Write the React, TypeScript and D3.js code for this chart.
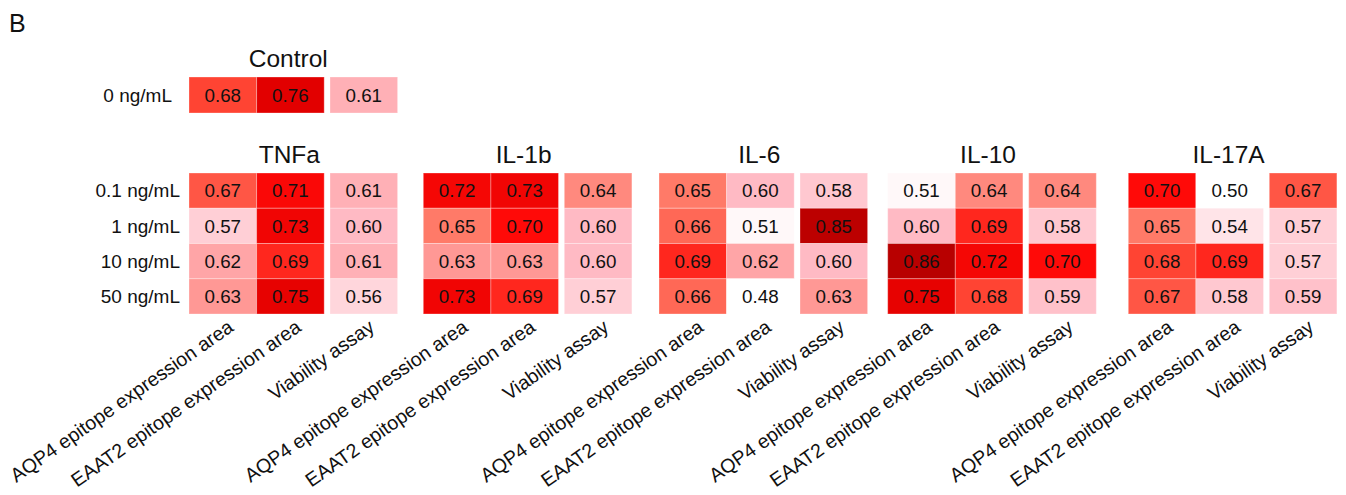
import React from "react";
import * as d3 from "d3";

const columns = ["AQP4 epitope expression area", "EAAT2 epitope expression area", "Viability assay"];
const concentrations = ["0.1 ng/mL", "1 ng/mL", "10 ng/mL", "50 ng/mL"];
const panels = ["TNFa", "IL-1b", "IL-6", "IL-10", "IL-17A"];

const controlLabel = "0 ng/mL";
const controlValues = [0.68, 0.76, 0.61];

const tnfa = [
  [0.67, 0.71, 0.61],
  [0.57, 0.73, 0.6],
  [0.62, 0.69, 0.61],
  [0.63, 0.75, 0.56],
];
const il1b = [
  [0.72, 0.73, 0.64],
  [0.65, 0.7, 0.6],
  [0.63, 0.63, 0.6],
  [0.73, 0.69, 0.57],
];
const il6 = [
  [0.65, 0.6, 0.58],
  [0.66, 0.51, 0.85],
  [0.69, 0.62, 0.6],
  [0.66, 0.48, 0.63],
];
const il10 = [
  [0.51, 0.64, 0.64],
  [0.6, 0.69, 0.58],
  [0.86, 0.72, 0.7],
  [0.75, 0.68, 0.59],
];
const il17a = [
  [0.7, 0.5, 0.67],
  [0.65, 0.54, 0.57],
  [0.68, 0.69, 0.57],
  [0.67, 0.58, 0.59],
];
const panelValues = [tnfa, il1b, il6, il10, il17a];

// layout
const W = 1346;
const H = 495;
const FONT = "'Liberation Sans', Arial, Helvetica, sans-serif";
const CELL_W = 67.6;
const GAP = 5.8;
const PANEL_W = 3 * CELL_W + GAP;
const panelLeft = [189, 423.3, 659, 887.7, 1128.3];
const CONTROL_LEFT = 189;

const color = d3
  .scaleLinear<string>()
  .domain([0.5, 0.55, 0.6, 0.625, 0.65, 0.68, 0.7, 0.76, 0.86])
  .range(["#ffffff", "#ffdde2", "#ffbac4", "#ffa0a0", "#ff7a68", "#ff4433", "#ff0a08", "#e20000", "#b80000"])
  .clamp(true);

const colX = d3.scaleOrdinal<string, number>().domain(columns).range([0, CELL_W, 2 * CELL_W + GAP]);
const panelX = d3.scaleOrdinal<string, number>().domain(panels).range(panelLeft);
const rowY = d3.scaleBand<string>().domain(concentrations).range([173, 314]);
const controlY = d3.scaleBand<string>().domain([controlLabel]).range([77, 113]);

function Cells({ x0, values, y, rows }: { x0: number; values: number[][]; y: d3.ScaleBand<string>; rows: string[] }) {
  return (
    <g>
      {rows.map((r, ri) =>
        columns.map((c, ci) => {
          const v = values[ri][ci];
          const x = x0 + colX(c);
          const yy = y(r) as number;
          return (
            <g key={r + c}>
              <rect
                x={x}
                y={yy}
                width={CELL_W}
                height={y.bandwidth()}
                fill={color(v)}
                stroke="#ffffff"
                strokeOpacity={0.3}
                strokeWidth={1}
              />
              <text
                x={x + CELL_W / 2}
                y={yy + y.bandwidth() / 2}
                dy="0.36em"
                textAnchor="middle"
                fontSize={18.8}
                fill="#111"
              >
                {v.toFixed(2)}
              </text>
            </g>
          );
        })
      )}
    </g>
  );
}

function XLabels({ x0, yBottom }: { x0: number; yBottom: number }) {
  return (
    <g>
      {columns.map((c) => {
        const cx = x0 + colX(c) + CELL_W / 2 + 12;
        const cy = yBottom + 16;
        return (
          <text
            key={c}
            transform={`translate(${cx},${cy}) rotate(-35)`}
            textAnchor="end"
            fontSize={19.6}
            fill="#111"
          >
            {c}
          </text>
        );
      })}
    </g>
  );
}

export default function App() {
  return (
    <svg
      width={W}
      height={H}
      style={{ position: "absolute", left: 0, top: 0, background: "#fff" }}
      fontFamily={FONT}
    >
      <text x={9} y={32} fontSize={25} fill="#111">
        B
      </text>

      {/* Control */}
      <text x={CONTROL_LEFT + PANEL_W / 2 - 5} y={67} textAnchor="middle" fontSize={24.5} fill="#111">
        Control
      </text>
      <text
        x={CONTROL_LEFT - 17}
        y={(controlY(controlLabel) as number) + controlY.bandwidth() / 2}
        dy="0.36em"
        textAnchor="end"
        fontSize={19}
        fill="#111"
      >
        {controlLabel}
      </text>
      <Cells x0={CONTROL_LEFT} values={[controlValues]} y={controlY} rows={[controlLabel]} />

      {/* Row labels */}
      {concentrations.map((r) => (
        <text
          key={r}
          x={panelX(panels[0]) - 9}
          y={(rowY(r) as number) + rowY.bandwidth() / 2}
          dy="0.36em"
          textAnchor="end"
          fontSize={19}
          fill="#111"
        >
          {r}
        </text>
      ))}

      {panels.map((p, i) => {
        const x0 = panelX(p);
        return (
          <g key={p}>
            <text x={x0 + PANEL_W / 2 - 4} y={163} textAnchor="middle" fontSize={24.5} fill="#111">
              {p}
            </text>
            <Cells x0={x0} values={panelValues[i]} y={rowY} rows={concentrations} />
            <XLabels x0={x0} yBottom={rowY.range()[1]} />
          </g>
        );
      })}
    </svg>
  );
}
